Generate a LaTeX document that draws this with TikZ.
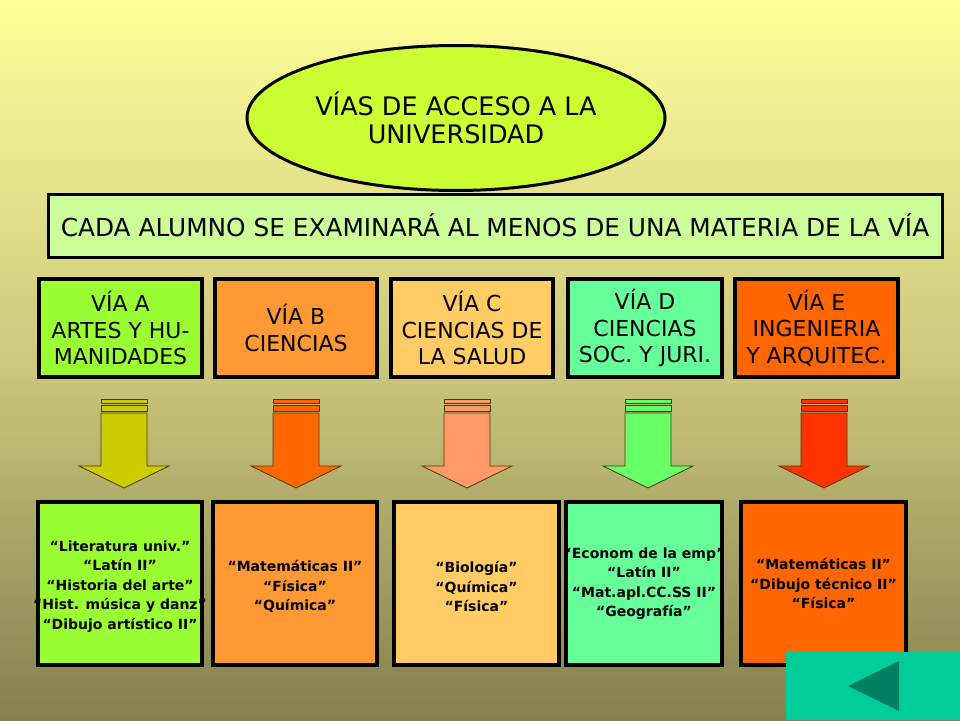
\documentclass[tikz,border=0pt]{standalone}
\usepackage{fontspec}
\setmainfont{DejaVu Sans}
\usetikzlibrary{shapes.geometric}
\definecolor{bgtop}{RGB}{255,255,153}
\definecolor{bgmid}{RGB}{205,200,125}
\definecolor{bgbot}{RGB}{133,128,78}
\definecolor{ellcol}{RGB}{204,255,51}
\definecolor{bancol}{RGB}{204,255,153}
\definecolor{cA}{RGB}{153,255,51}
\definecolor{cB}{RGB}{255,153,51}
\definecolor{cC}{RGB}{255,204,102}
\definecolor{cD}{RGB}{102,255,153}
\definecolor{cE}{RGB}{255,102,0}
\definecolor{aA}{RGB}{204,204,0}
\definecolor{aB}{RGB}{255,102,0}
\definecolor{aC}{RGB}{255,153,102}
\definecolor{aD}{RGB}{102,255,102}
\definecolor{aE}{RGB}{255,51,0}
\definecolor{btn}{RGB}{0,204,153}
\definecolor{btntri}{RGB}{0,128,96}
\definecolor{arline}{RGB}{70,60,10}
\newcommand{\blockarr}[2]{%
  \begin{scope}[shift={(#1,0)}]
    \filldraw[fill=#2,draw=arline,line width=0.8pt] (-23,399) rectangle (23,403);
    \filldraw[fill=#2,draw=arline,line width=0.8pt] (-23,405) rectangle (23,411);
    \filldraw[fill=#2,draw=arline,line width=0.8pt,line join=miter]
      (-23,413) -- (23,413) -- (23,466) -- (45,466) -- (0,488) -- (-45,466) -- (-23,466) -- cycle;
  \end{scope}}
\begin{document}
\begin{tikzpicture}[x=1pt,y=-1pt,
  topbox/.style={draw=black,line width=3.5pt,align=center,inner sep=0pt,
     font=\fontsize{22}{26.5}\selectfont, minimum height=98pt},
  botbox/.style={draw=black,line width=3.5pt,inner sep=0pt,minimum height=163pt},
  bottext/.style={align=center,inner sep=0pt,font=\fontsize{14}{19.5}\selectfont\bfseries}]
\fill[top color=bgtop,bottom color=bgbot,middle color=bgmid] (0,0) rectangle (960,720);
\useasboundingbox (0,0) rectangle (960,720);

\node[ellipse,draw=black,line width=3pt,fill=ellcol,minimum width=418pt,minimum height=145pt,
  inner sep=0pt,align=center,font=\fontsize{25.5}{28}\selectfont] (title) at (456,118)
  {VÍAS DE ACCESO A LA\\UNIVERSIDAD};

\node[draw=black,line width=3pt,fill=bancol,minimum width=894pt,minimum height=63pt,inner sep=0pt,
  font=\fontsize{24.8}{28}\selectfont] (banner) at (495,225.5)
  {CADA ALUMNO SE EXAMINARÁ AL MENOS DE UNA MATERIA DE LA VÍA};

\node[topbox,fill=cA,minimum width=163pt] (va) at (120.5,328) {VÍA A\\ARTES Y HU-\\MANIDADES};
\node[topbox,fill=cB,minimum width=162pt] (vb) at (296,328) {VÍA B\\CIENCIAS};
\node[topbox,fill=cC,minimum width=162pt] (vc) at (472,328) {VÍA C\\CIENCIAS DE\\LA SALUD};
\node[topbox,fill=cD,minimum width=154pt] (vd) at (645,328) {VÍA D\\CIENCIAS\\SOC. Y JURI.};
\node[topbox,fill=cE,minimum width=163pt] (ve) at (816.5,328) {VÍA E\\INGENIERIA\\Y ARQUITEC.};

\blockarr{124}{aA}
\blockarr{296}{aB}
\blockarr{467}{aC}
\blockarr{648}{aD}
\blockarr{824}{aE}

\node[botbox,fill=cA,minimum width=164pt] (ma) at (120,583.5) {};
\node[botbox,fill=cB,minimum width=164pt] (mb) at (295,583.5) {};
\node[botbox,fill=cC,minimum width=165pt] (mc) at (476.5,583.5) {};
\node[botbox,fill=cD,minimum width=156pt] (md) at (644,583.5) {};
\node[botbox,fill=cE,minimum width=165pt] (me) at (823.5,583.5) {};

\node[bottext] (ta) at ([yshift=-3pt]ma.center)
  {“Literatura univ.”\\“Latín II”\\“Historia del arte”\\“Hist. música y danz”\\“Dibujo artístico II”};
\node[bottext] (tb) at ([yshift=-3pt]mb.center) {“Matemáticas II”\\“Física”\\“Química”};
\node[bottext] (tc) at ([yshift=-3pt]mc.center) {“Biología”\\“Química”\\“Física”};
\node[bottext] (td) at ([yshift=0pt]md.center)
  {“Econom de la emp”\\“Latín II”\\“Mat.apl.CC.SS II”\\“Geografía”};
\node[bottext] (te) at ([yshift=0pt]me.center) {“Matemáticas II”\\“Dibujo técnico II”\\“Física”};

\fill[btn] (786,652) rectangle (960,720);
\fill[btntri] (848,686) -- (899,661) -- (899,711) -- cycle;
\end{tikzpicture}
\end{document}
